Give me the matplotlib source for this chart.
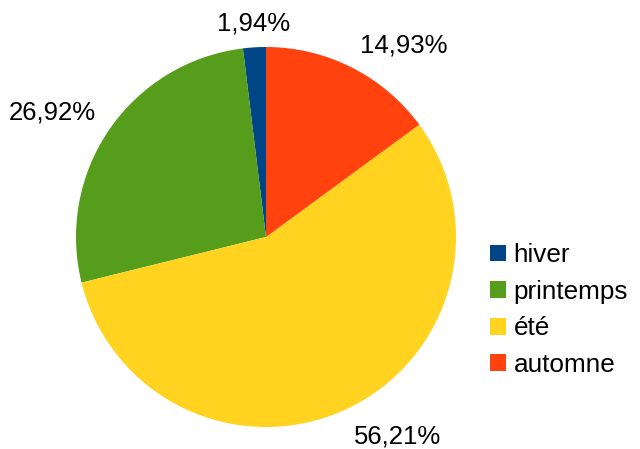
import numpy as np
import matplotlib.pyplot as plt
from matplotlib.patches import Patch

plt.rcParams['font.family'] = ['Liberation Sans', 'DejaVu Sans']

# Répartition par saison
seasons = ['hiver', 'printemps', 'été', 'automne']
shares = [1.94, 26.92, 56.21, 14.93]
colors = ['#004586', '#579d1c', '#ffd320', '#ff420e']

labels = [f"{v:.2f}%".replace('.', ',') for v in shares]

fig = plt.figure(figsize=(6.4, 4.49), dpi=100)
# pie: centre ~(266, 237) px, rayon 190 px
ax = fig.add_axes([76 / 640, 22 / 449, 380 / 640, 380 / 449])

wedges, texts = ax.pie(shares, colors=colors, labels=labels, startangle=90,
                       counterclock=True, labeldistance=1.09,
                       textprops={'fontsize': 18.5})
# étiquettes ancrées par le coin le plus proche du camembert
for w, t in zip(wedges, texts):
    ang = np.deg2rad((w.theta1 + w.theta2) / 2)
    if abs(np.cos(ang)) < 0.2:
        t.set_ha('center')
    t.set_va('baseline' if np.sin(ang) > 0 else 'top')
ax.set_xlim(-1, 1)
ax.set_ylim(-1, 1)
ax.set_aspect('equal')

handles = [Patch(facecolor=c, edgecolor='none') for c in colors]
fig.legend(handles, seasons, loc='center left', bbox_to_anchor=(490 / 640, 1 - 310 / 449),
           frameon=False, fontsize=18.8, borderpad=0, borderaxespad=0,
           handlelength=0.62, handleheight=0.62, handletextpad=0.28,
           labelspacing=0.48)

fig.savefig('out.png', dpi=100)
